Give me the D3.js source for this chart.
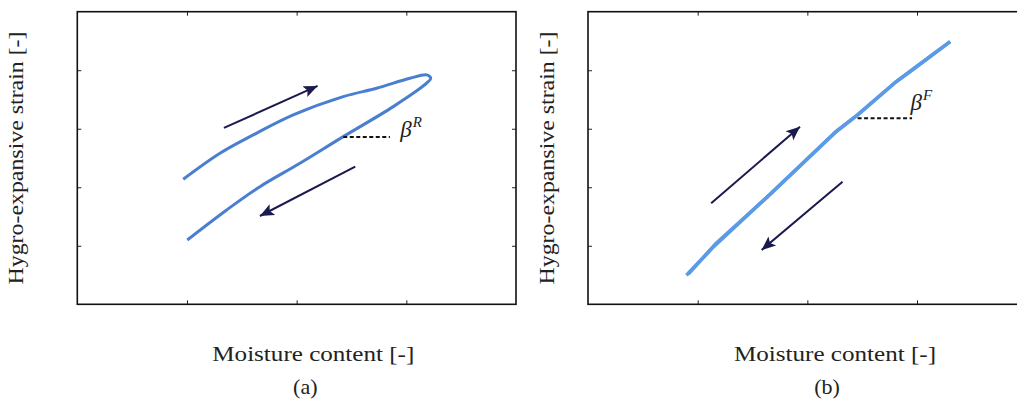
<!DOCTYPE html>
<html>
<head>
<meta charset="utf-8">
<script src="https://cdn.jsdelivr.net/npm/d3@7"></script>
<style>
  body { margin: 0; background: #fff; }
  text { font-family: "Liberation Serif", "DejaVu Serif", serif; fill: #222; }
</style>
</head>
<body>
<svg width="1017" height="401"></svg>
<script>
// tick positions (no labels shown)
const xTicks = [1, 2, 3];
const yTicks = [1, 2, 3, 4];

// panel (a): hysteresis loop, wetting branch then drying branch
const loopX = [0.966, 1.301, 1.604, 1.969, 2.425, 2.729, 3.033, 3.185, 3.222, 3.185, 2.881, 2.425, 2.030, 1.665, 1.362, 1.003];
const loopY = [2.137, 2.581, 2.894, 3.236, 3.549, 3.692, 3.863, 3.920, 3.863, 3.778, 3.378, 2.865, 2.410, 2.010, 1.612, 1.099];

// panel (b): wetting and drying almost on top of each other
const wetX = [0.897, 1.146, 1.635, 2.244, 2.458, 2.793, 2.976, 3.302];
const wetY = [0.496, 0.985, 1.839, 2.923, 3.236, 3.778, 4.034, 4.489];
const dryX = [3.302, 2.976, 2.793, 2.458, 2.269, 1.665, 1.171, 0.915];
const dryY = [4.489, 4.034, 3.778, 3.236, 2.962, 1.885, 1.048, 0.518];

// arrows [x1, y1, x2, y2] (tip at x2,y2)
const arrowsA = [[1.337, 3.014, 2.191, 3.732], [2.534, 2.352, 1.665, 1.509]];
const arrowsB = [[1.123, 1.726, 1.933, 3.036], [2.321, 2.096, 1.583, 0.928]];

// slope markers [x1, x2, y]
const slopeA = [2.425, 2.85, 2.86];
const slopeB = [2.458, 2.955, 3.18];

const svg = d3.select('svg');
const pw = 438.7, ph = 292.6;

svg.append('defs').append('marker')
  .attr('id', 'head')
  .attr('markerUnits', 'userSpaceOnUse')
  .attr('viewBox', '-14 -7 16 14')
  .attr('markerWidth', 16).attr('markerHeight', 14)
  .attr('refX', 0).attr('refY', 0)
  .attr('orient', 'auto')
  .append('path')
    .attr('d', 'M0,0 L-14,-6 L-11,0 L-14,6 Z')
    .attr('fill', '#1b1a4f');

const xScale = d3.scaleLinear().domain([0, 4]).range([0, pw]);
const yScale = d3.scaleLinear().domain([0, 5]).range([ph, 0]);

const panel = (left, top, opts) => {
  const g = svg.append('g').attr('transform', `translate(${left},${top})`);
  const line = d3.line().x(d => xScale(d[0])).y(d => yScale(d[1])).curve(opts.curve);

  const ax = [
    [d3.axisBottom(xScale).tickValues(xTicks), `translate(0,${ph})`],
    [d3.axisTop(xScale).tickValues(xTicks), 'translate(0,0)'],
    [d3.axisLeft(yScale).tickValues(yTicks), 'translate(0,0)'],
    [d3.axisRight(yScale).tickValues(yTicks), `translate(${pw},0)`]
  ];
  ax.forEach(([a, t]) => {
    const ag = g.append('g').attr('transform', t)
      .call(a.tickSize(-4).tickSizeOuter(0).tickFormat(''));
    ag.select('.domain').remove();
    ag.selectAll('.tick line').attr('stroke', '#222').attr('stroke-width', 1);
  });

  g.append('rect')
    .attr('width', pw).attr('height', ph)
    .attr('fill', 'none').attr('stroke', '#111').attr('stroke-width', 1.6);

  opts.series.forEach(s => {
    g.append('path')
      .datum(s.x.map((v, i) => [v, s.y[i]]))
      .attr('d', line)
      .attr('fill', 'none')
      .attr('stroke', opts.color)
      .attr('stroke-width', opts.width)
      .attr('stroke-linejoin', 'round');
  });

  g.append('line')
    .attr('x1', xScale(opts.slope[0])).attr('x2', xScale(opts.slope[1]))
    .attr('y1', yScale(opts.slope[2])).attr('y2', yScale(opts.slope[2]))
    .attr('stroke', '#111').attr('stroke-width', 2)
    .attr('stroke-dasharray', '4,2.5');

  g.selectAll('.arrow').data(opts.arrows)
    .enter().append('line')
      .attr('class', 'arrow')
      .attr('x1', d => xScale(d[0])).attr('y1', d => yScale(d[1]))
      .attr('x2', d => xScale(d[2])).attr('y2', d => yScale(d[3]))
      .attr('stroke', '#1b1a4f').attr('stroke-width', 2)
      .attr('marker-end', 'url(#head)');

  const beta = g.append('text')
    .attr('x', opts.betaPos[0]).attr('y', opts.betaPos[1])
    .style('font-size', '23px').style('font-style', 'italic');
  beta.append('tspan').text('β');
  beta.append('tspan').attr('dy', -10).attr('dx', 1).style('font-size', '15px').text(opts.sup);

  // y label
  g.append('text')
    .attr('transform', `translate(${opts.ylabX},${ph / 2}) rotate(-90)`)
    .attr('text-anchor', 'middle')
    .attr('textLength', 253).attr('lengthAdjust', 'spacingAndGlyphs')
    .style('font-size', '21px')
    .text('Hygro-expansive strain [-]');

  g.append('text')
    .attr('x', opts.xlabX).attr('y', 361 - top)
    .attr('text-anchor', 'middle')
    .attr('textLength', 202).attr('lengthAdjust', 'spacingAndGlyphs')
    .style('font-size', '21px')
    .text('Moisture content [-]');

  g.append('text')
    .attr('x', opts.xlabX - 8).attr('y', 394 - top)
    .attr('text-anchor', 'middle')
    .style('font-size', '22px')
    .text(opts.tag);
};

panel(77.3, 11.7, {
  series: [{ x: loopX, y: loopY }],
  color: '#4a7fd0', width: 3, curve: d3.curveCatmullRom,
  slope: slopeA, arrows: arrowsA,
  betaPos: [323, 125], sup: 'R',
  ylabX: -54, xlabX: 236, tag: '(a)'
});

panel(588, 11.7, {
  series: [{ x: wetX, y: wetY }, { x: dryX, y: dryY }],
  color: '#5b9be6', width: 3.5, curve: d3.curveLinear,
  slope: slopeB, arrows: arrowsB,
  betaPos: [322.5, 98], sup: 'F',
  ylabX: -34, xlabX: 247, tag: '(b)'
});
</script>
</body>
</html>
